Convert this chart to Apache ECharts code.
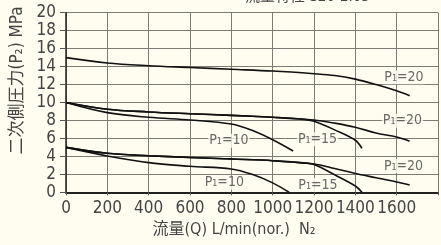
<!DOCTYPE html>
<html>
<head>
<meta charset="utf-8">
<script src="https://cdn.jsdelivr.net/npm/echarts@6/dist/echarts.min.js"></script>
<style>
  html, body { margin: 0; padding: 0; background: #fefdf0; }
  #chart { width: 441px; height: 245px; }
</style>
</head>
<body>
<div id="chart"></div>
<script>
// 流量特性 データ (P1 = 一次側圧力)
var topP20X = [0, 200, 400, 600, 800, 1000, 1200, 1300, 1400, 1500, 1600, 1663]
var topP20Y = [15.0, 14.4, 14.1, 13.9, 13.7, 13.5, 13.2, 13.0, 12.6, 12.0, 11.3, 10.75]

var midP20X = [0, 200, 400, 600, 800, 1000, 1200, 1300, 1400, 1500, 1600, 1663]
var midP20Y = [10, 9.25, 8.95, 8.75, 8.57, 8.35, 8.05, 7.7, 7.24, 6.6, 6.15, 5.7]
var midP15X = [0, 200, 400, 600, 800, 1000, 1150, 1200, 1300, 1400, 1432]
var midP15Y = [10, 9.25, 8.95, 8.75, 8.57, 8.35, 8.12, 7.9, 6.95, 5.8, 4.9]
var midP10X = [0, 200, 400, 600, 800, 900, 1000, 1099]
var midP10Y = [10, 8.87, 8.35, 8.05, 7.6, 6.9, 5.85, 4.6]

var botP20X = [0, 200, 400, 600, 800, 1000, 1200, 1300, 1400, 1500, 1600, 1663]
var botP20Y = [5, 4.34, 4.07, 3.88, 3.7, 3.52, 3.15, 2.65, 2.1, 1.63, 1.15, 0.81]
var botP15X = [0, 200, 400, 600, 800, 1000, 1150, 1200, 1300, 1400, 1432]
var botP15Y = [5, 4.34, 4.07, 3.88, 3.7, 3.52, 3.25, 3.1, 1.95, 0.7, 0]
var botP10X = [0, 200, 400, 600, 800, 900, 1000, 1079]
var botP10Y = [5, 4.05, 3.3, 2.9, 2.6, 2.0, 1.05, 0]

// ラベル位置
var labelX = [1635, 1628, 1217, 788, 1633, 1219, 766]
var labelY = [12.8, 7.97, 5.9, 5.75, 2.93, 0.81, 1.07]
var labelText = ['P₁=20', 'P₁=20', 'P₁=15', 'P₁=10', 'P₁=20', 'P₁=15', 'P₁=10']

var bg = '#fefdf0'
var font = "'DejaVu Sans Condensed', 'Liberation Sans Narrow', 'Noto Sans CJK JP', sans-serif"

function pairs(xs, ys) {
  return xs.map(function (x, i) { return [x, ys[i]] })
}

function curve(xs, ys) {
  return {
    type: 'line',
    data: pairs(xs, ys),
    smooth: 0.35,
    symbol: 'none',
    lineStyle: { color: '#111', width: 1.6 },
    silent: true,
    z: 3
  }
}

var chart = echarts.init(document.getElementById('chart'), null, { renderer: 'canvas' })
chart.setOption({
  backgroundColor: bg,
  animation: false,
  title: {
    text: '流量特性 S20-2.05',
    left: 240,
    top: -15,
    textStyle: { fontFamily: font, fontSize: 15, fontWeight: 'normal', color: '#444' }
  },
  grid: { left: 66, right: -15.4, top: 12.7, bottom: 52.7 },
  xAxis: {
    type: 'value',
    min: 0,
    max: 1800,
    interval: 200,
    name: '流量(Q) L/min(nor.)  N₂',
    nameLocation: 'middle',
    nameGap: 30,
    nameTextStyle: { fontFamily: font, fontSize: 16, color: '#444', padding: [0, 36, 0, 0] },
    axisLine: { lineStyle: { color: '#222', width: 2 } },
    axisTick: { show: true, length: 3, lineStyle: { color: '#555' } },
    axisLabel: {
      fontFamily: font, fontSize: 17, color: '#444', margin: 8,
      formatter: function (v) { return v > 1600 ? '' : String(v) }
    },
    splitLine: { show: true, lineStyle: { color: '#7c7c74', width: 1 } }
  },
  yAxis: {
    type: 'value',
    min: 0,
    max: 20,
    interval: 2,
    name: '二次側圧力(P₂) MPa',
    nameLocation: 'middle',
    nameRotate: 90,
    nameGap: 38,
    nameTextStyle: { fontFamily: font, fontSize: 17, color: '#444', padding: [0, 0, 0, 44] },
    axisLine: { show: true, lineStyle: { color: '#222', width: 1.5 } },
    axisTick: { show: true, length: 6, lineStyle: { color: '#555' } },
    axisLabel: { fontFamily: font, fontSize: 17, color: '#444', margin: 10 },
    splitLine: { show: true, lineStyle: { color: '#7c7c74', width: 1 } }
  },
  series: [
    curve(topP20X, topP20Y),
    curve(midP20X, midP20Y),
    curve(midP15X, midP15Y),
    curve(midP10X, midP10Y),
    curve(botP20X, botP20Y),
    curve(botP15X, botP15Y),
    curve(botP10X, botP10Y),
    {
      type: 'scatter',
      symbolSize: 0,
      silent: true,
      z: 5,
      data: labelX.map(function (x, i) { return { value: [x, labelY[i]], name: labelText[i] } }),
      label: {
        show: true,
        position: 'inside',
        formatter: '{b}',
        fontFamily: font,
        fontSize: 14,
        color: '#444',
        backgroundColor: bg,
        padding: [0, 1]
      }
    }
  ]
})
</script>
</body>
</html>
